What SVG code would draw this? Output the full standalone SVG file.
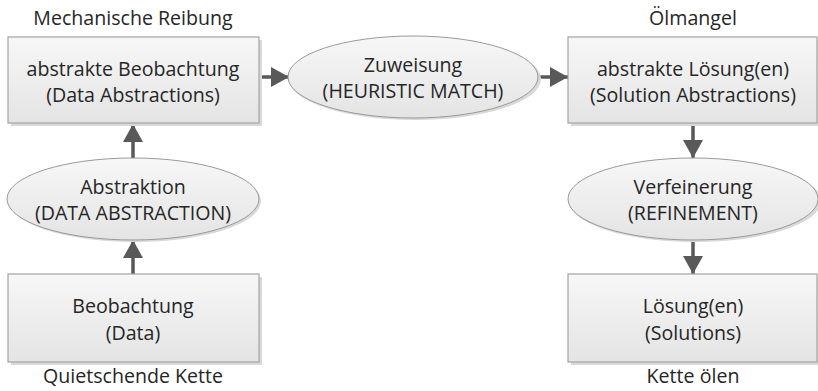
<svg xmlns="http://www.w3.org/2000/svg" width="818" height="391" viewBox="0 0 818 391">
<defs>
<linearGradient id="g" x1="0" y1="0" x2="0" y2="1">
<stop offset="0" stop-color="#f7f7f7"/>
<stop offset="1" stop-color="#e4e4e4"/>
</linearGradient>
<marker id="ah" markerUnits="userSpaceOnUse" markerWidth="20" markerHeight="20" viewBox="0 0 20 20" refX="18" refY="10" orient="auto">
<path d="M0,0 L18,10 L0,20 Z" fill="#595959"/>
</marker>
</defs>
<style>
.box{fill:url(#g);stroke:#a3a3a3;stroke-width:1.2}
.sh{fill:#d9d9d9}
.ell{fill:url(#g);stroke:#9a9a9a;stroke-width:1}
text{font-family:"Open Sans","Liberation Sans",sans-serif;font-size:19.6px;fill:#262626;text-anchor:middle}
.con{stroke:#595959;stroke-width:3.5;fill:none;marker-end:url(#ah)}
</style>
<rect width="818" height="391" fill="#ffffff"/>
<text x="133" y="25">Mechanische Reibung</text>
<text x="693" y="25">Ölmangel</text>
<text x="133" y="383">Quietschende Kette</text>
<text x="693" y="383">Kette ölen</text>
<g id="connectors">
<line class="con" x1="259" y1="77" x2="289" y2="77"/>
<line class="con" x1="539" y1="77" x2="568" y2="77"/>
<line class="con" x1="133" y1="158" x2="133" y2="124"/>
<line class="con" x1="133" y1="274" x2="133" y2="240"/>
<line class="con" x1="693" y1="124" x2="693" y2="158"/>
<line class="con" x1="693" y1="240" x2="693" y2="274"/>
</g>
<g id="abstrakte-beobachtung">
<rect class="sh" x="11" y="40" width="251" height="86"/>
<rect class="box" x="8" y="37" width="251" height="86"/>
<text x="133" y="76">abstrakte Beobachtung</text>
<text x="133" y="102">(Data Abstractions)</text>
</g>
<g id="zuweisung">
<ellipse class="sh" cx="415" cy="79" rx="126" ry="41"/>
<ellipse class="ell" cx="413" cy="77" rx="125" ry="41"/>
<text x="413" y="72">Zuweisung</text>
<text x="413" y="98">(HEURISTIC MATCH)</text>
</g>
<g id="abstrakte-loesung">
<rect class="sh" x="571" y="40" width="247" height="86"/>
<rect class="box" x="568" y="37" width="249" height="86"/>
<text x="693" y="76">abstrakte Lösung(en)</text>
<text x="693" y="102">(Solution Abstractions)</text>
</g>
<g id="abstraktion">
<ellipse class="sh" cx="135" cy="201" rx="126" ry="41"/>
<ellipse class="ell" cx="133" cy="199" rx="126" ry="41"/>
<text x="133" y="194">Abstraktion</text>
<text x="133" y="220">(DATA ABSTRACTION)</text>
</g>
<g id="verfeinerung">
<ellipse class="sh" cx="695" cy="201" rx="126" ry="41"/>
<ellipse class="ell" cx="693" cy="199" rx="125" ry="41"/>
<text x="693" y="194">Verfeinerung</text>
<text x="693" y="220">(REFINEMENT)</text>
</g>
<g id="beobachtung">
<rect class="sh" x="11" y="277" width="251" height="88"/>
<rect class="box" x="8" y="274" width="251" height="88"/>
<text x="133" y="313">Beobachtung</text>
<text x="133" y="340">(Data)</text>
</g>
<g id="loesungen">
<rect class="sh" x="571" y="277" width="247" height="88"/>
<rect class="box" x="568" y="274" width="249" height="88"/>
<text x="693" y="313">Lösung(en)</text>
<text x="693" y="340">(Solutions)</text>
</g>
</svg>
